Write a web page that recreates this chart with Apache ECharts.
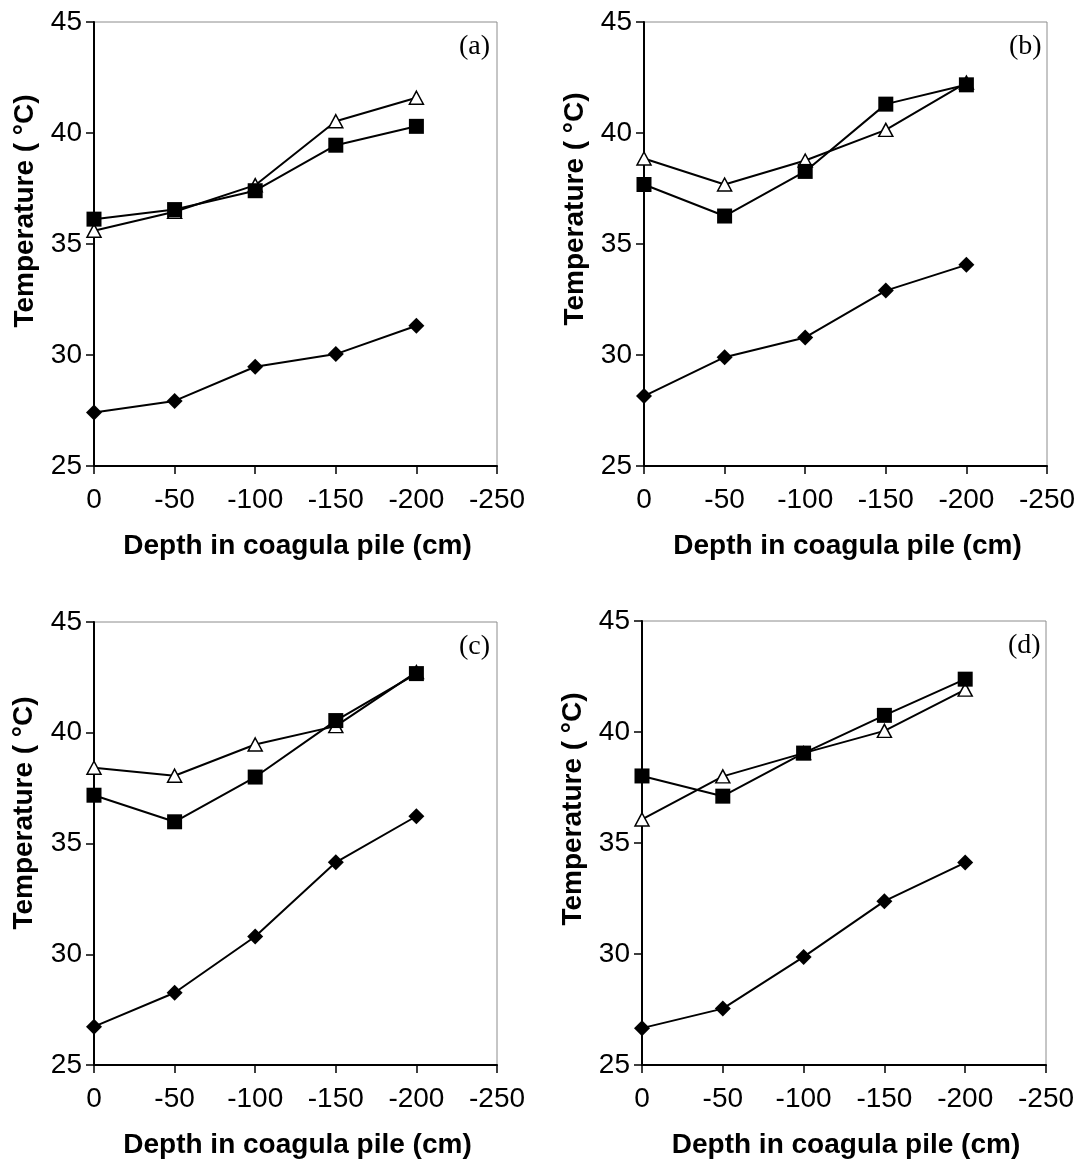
<!DOCTYPE html>
<html><head><meta charset="utf-8">
<script src="https://cdn.jsdelivr.net/npm/echarts@6/dist/echarts.min.js"></script>
<style>html,body{margin:0;padding:0;background:#fff}#c{width:1079px;height:1169px}</style>
</head><body><div id="c"></div>
<script>
const depths = [0, -50, -100, -150, -200];
const xTicks = [0, -50, -100, -150, -200, -250];
const yTicks = [25, 30, 35, 40, 45];
const panelLabels = ['(a)', '(b)', '(c)', '(d)'];
const xTitle = 'Depth in coagula pile (cm)';
const yTitle = 'Temperature ( \u00B0C)';

const aDiamond  = [27.41, 27.93, 29.47, 30.04, 31.32];
const aTriangle = [35.60, 36.45, 37.65, 40.53, 41.59];
const aSquare   = [36.12, 36.55, 37.40, 39.45, 40.30];

const bDiamond  = [28.15, 29.90, 30.79, 32.90, 34.06];
const bTriangle = [38.85, 37.68, 38.76, 40.14, 42.27];
const bSquare   = [37.68, 36.26, 38.27, 41.30, 42.17];

const cDiamond  = [26.73, 28.26, 30.80, 34.15, 36.23];
const cTriangle = [38.42, 38.06, 39.47, 40.30, 42.74];
const cSquare   = [37.18, 35.98, 38.00, 40.55, 42.67];

const dDiamond  = [26.66, 27.54, 29.87, 32.38, 34.12];
const dTriangle = [36.06, 38.00, 39.05, 40.05, 41.91];
const dSquare   = [38.02, 37.11, 39.05, 40.75, 42.38];

const panels = [
  {d: aDiamond, t: aTriangle, s: aSquare},
  {d: bDiamond, t: bTriangle, s: bSquare},
  {d: cDiamond, t: cTriangle, s: cSquare},
  {d: dDiamond, t: dTriangle, s: dSquare}
];

// layout
const grids = [
  {left: 94, top: 22, width: 403, height: 444},
  {left: 644, top: 22, width: 403, height: 444},
  {left: 94, top: 622, width: 403, height: 443},
  {left: 642, top: 621, width: 404, height: 444}
];
const yTitlePos = [[25, 211], [575, 209], [24, 813], [573, 809]];
const xTitleOffset = 80;

const chart = echarts.init(document.getElementById('c'), null, {renderer: 'canvas'});
const SANS = '"Liberation Sans", Arial, sans-serif';
const SERIF = '"Liberation Serif", "Times New Roman", serif';

const option = {
  backgroundColor: '#fff',
  animation: false,
  grid: [], xAxis: [], yAxis: [], series: [], graphic: []
};

panels.forEach((p, i) => {
  const g = grids[i];
  option.grid.push(Object.assign({show: true, borderColor: '#8c8c8c', borderWidth: 1, backgroundColor: 'transparent'}, g));
  option.xAxis.push({
    type: 'value', gridIndex: i, inverse: true, min: -250, max: 0, interval: 50,
    axisLine: {show: true, onZero: false, lineStyle: {color: '#000', width: 2}},
    axisTick: {show: true, inside: false, length: 8, lineStyle: {color: '#000', width: 1.5}},
    axisLabel: {color: '#000', fontSize: 28, fontFamily: SANS, margin: 20},
    splitLine: {show: false}
  });
  option.yAxis.push({
    type: 'value', gridIndex: i, min: 25, max: 45, interval: 5,
    axisLine: {show: true, onZero: false, lineStyle: {color: '#000', width: 2}},
    axisTick: {show: true, inside: false, length: 8, lineStyle: {color: '#000', width: 1.5}},
    axisLabel: {color: '#000', fontSize: 28, fontFamily: SANS, margin: 12},
    splitLine: {show: false}
  });
  const mk = (vals) => depths.map((x, k) => [x, vals[k]]);
  option.series.push({
    type: 'line', xAxisIndex: i, yAxisIndex: i, data: mk(p.d),
    symbol: 'diamond', symbolSize: 16, z: 3,
    lineStyle: {color: '#000', width: 2}, itemStyle: {color: '#000'}
  });
  option.series.push({
    type: 'line', xAxisIndex: i, yAxisIndex: i, data: mk(p.t),
    symbol: 'triangle', symbolSize: [14, 13], z: 4,
    lineStyle: {color: '#000', width: 2}, itemStyle: {color: '#fff', borderColor: '#000', borderWidth: 1.5}
  });
  option.series.push({
    type: 'line', xAxisIndex: i, yAxisIndex: i, data: mk(p.s),
    symbol: 'rect', symbolSize: 15, z: 5,
    lineStyle: {color: '#000', width: 2}, itemStyle: {color: '#000'}
  });
  option.graphic.push({
    type: 'text', left: g.left + g.width - 7 - 31, top: g.top + 11,
    style: {text: panelLabels[i], font: '28px ' + SERIF, fill: '#000'}
  });
  option.graphic.push({
    type: 'text', x: g.left + g.width / 2 + 2, y: g.top + g.height + xTitleOffset,
    style: {text: xTitle, font: 'bold 28px ' + SANS, fill: '#000', align: 'center', verticalAlign: 'middle'}
  });
  option.graphic.push({
    type: 'text', x: yTitlePos[i][0], y: yTitlePos[i][1], rotation: Math.PI / 2,
    style: {text: yTitle, font: 'bold 28px ' + SANS, fill: '#000', align: 'center', verticalAlign: 'middle'}
  });
});

chart.setOption(option);
</script>
</body></html>
